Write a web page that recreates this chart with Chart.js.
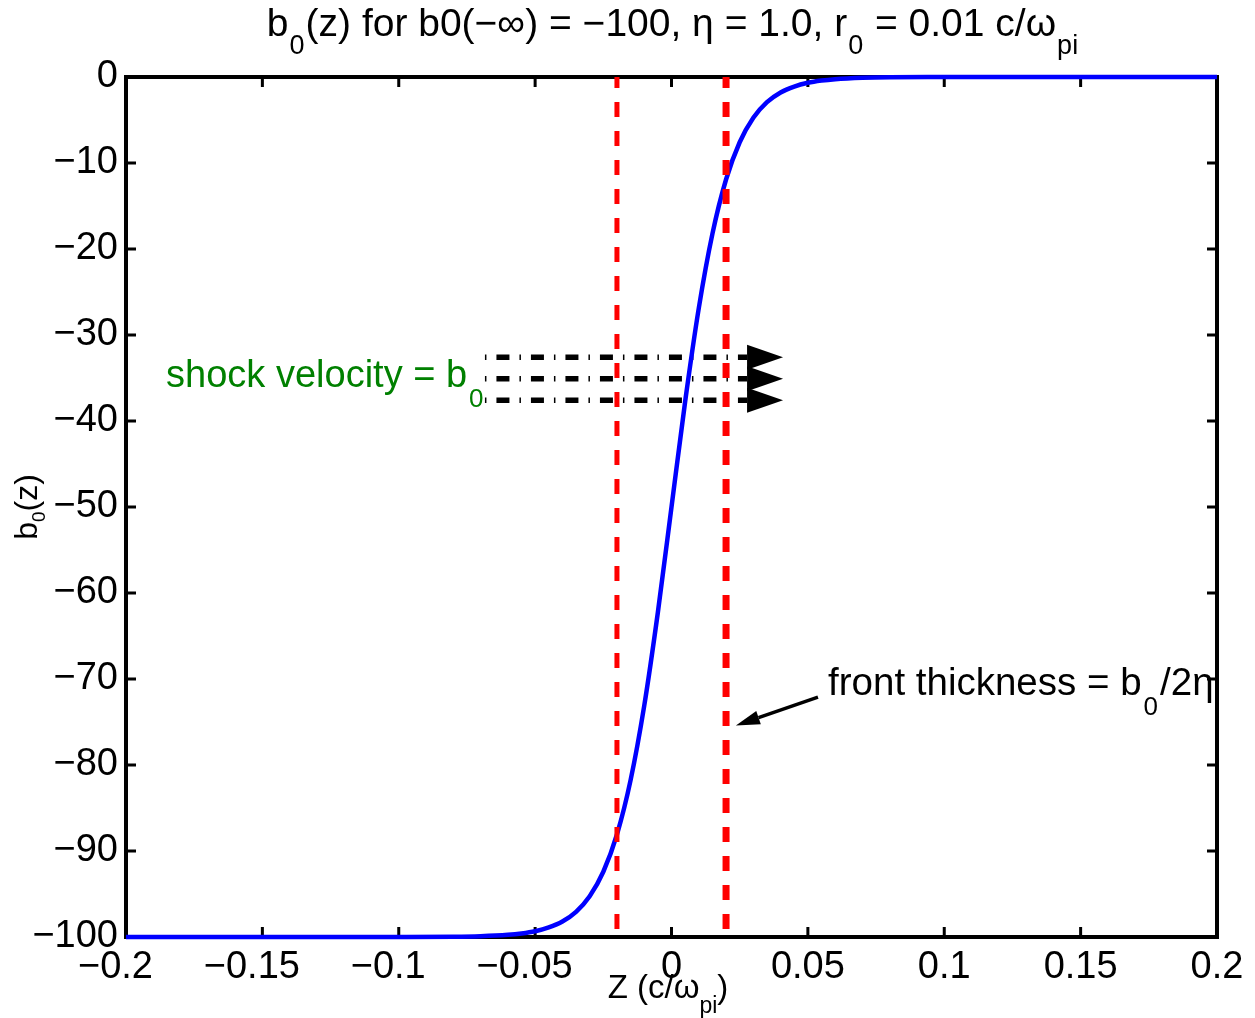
<!DOCTYPE html>
<html>
<head>
<meta charset="utf-8">
<script src="https://cdn.jsdelivr.net/npm/chart.js@4/dist/chart.umd.min.js"></script>
<style>
html,body{margin:0;padding:0;background:#fff;}
#c{display:block;}
</style>
</head>
<body>
<canvas id="c" width="1255" height="1018"></canvas>
<script>
// ---- data ----
const zValues = [-0.2,-0.15,-0.1,-0.08,-0.07,-0.06,-0.055,-0.05,-0.045,-0.04,-0.035,-0.03,-0.025,-0.02,-0.015,-0.01,-0.005,0,0.005,0.01,0.015,0.02,0.025,0.03,0.035,0.04,0.045,0.05,0.055,0.06,0.07,0.08,0.1,0.15,0.2];
const b0Values = [-100,-100,-99.99,-99.97,-99.91,-99.75,-99.59,-99.33,-98.89,-98.2,-97.07,-95.26,-92.41,-88.08,-81.76,-73.11,-62.25,-50,-37.75,-26.89,-18.24,-11.92,-7.59,-4.74,-2.93,-1.8,-1.11,-0.67,-0.41,-0.25,-0.09,-0.03,-0.01,0,0];
const frontEdges = [-0.02, 0.02];
const arrowLevels = [-32.6, -35.1, -37.6];
const arrowStartZ = -0.0684;
const arrowBaseZ = 0.0277;
const arrowTipZ = 0.0409;
const frontArrowTail = [0.0537, -72.1];
const frontArrowTip = [0.0236, -75.4];
const xTicks = [-0.2,-0.15,-0.1,-0.05,0,0.05,0.1,0.15,0.2];
const xTickLabels = ['−0.2','−0.15','−0.1','−0.05','0','0.05','0.1','0.15','0.2'];
const yTicks = [-100,-90,-80,-70,-60,-50,-40,-30,-20,-10,0];
const yTickLabels = ['−100','−90','−80','−70','−60','−50','−40','−30','−20','−10','0'];

const FONT = '"Liberation Sans", Arial, Helvetica, sans-serif';

function richDraw(ctx, segs, x, y, o) {
  let total = 0;
  const gap = o.subGap || 0;
  const widths = segs.map(s => {
    ctx.font = (s[1] ? o.subFs : o.fs) + 'px ' + FONT;
    const w = ctx.measureText(s[0]).width + (s[1] ? gap * 2 : 0);
    total += w;
    return w;
  });
  let cx = x;
  if (o.align === 'center') cx = x - total / 2;
  else if (o.align === 'right') cx = x - total;
  ctx.fillStyle = o.color || '#000';
  ctx.textBaseline = 'alphabetic';
  ctx.textAlign = 'left';
  segs.forEach((s, i) => {
    ctx.font = (s[1] ? o.subFs : o.fs) + 'px ' + FONT;
    ctx.fillText(s[0], cx + (s[1] ? gap : 0), y + (s[1] ? o.subShift : 0));
    cx += widths[i];
  });
  return total;
}

const decor = {
  id: 'decor',
  beforeDatasetsDraw(chart) {
    const {ctx, chartArea: a, scales: {x, y}} = chart;
    ctx.save();
    ctx.strokeStyle = '#000';
    ctx.lineWidth = 4;
    ctx.strokeRect(a.left, a.top, a.right - a.left, a.bottom - a.top);
    ctx.lineWidth = 3;
    ctx.beginPath();
    xTicks.forEach(v => {
      const p = x.getPixelForValue(v);
      ctx.moveTo(p, a.bottom); ctx.lineTo(p, a.bottom - 10);
      ctx.moveTo(p, a.top); ctx.lineTo(p, a.top + 10);
    });
    yTicks.forEach(v => {
      const p = y.getPixelForValue(v);
      ctx.moveTo(a.left, p); ctx.lineTo(a.left + 10, p);
      ctx.moveTo(a.right, p); ctx.lineTo(a.right - 10, p);
    });
    ctx.stroke();
    ctx.restore();
  },
  afterDatasetsDraw(chart) {
    const {ctx, scales: {x, y}} = chart;
    ctx.save();
    ctx.fillStyle = '#000';
    arrowLevels.forEach(lv => {
      const py = y.getPixelForValue(lv);
      const bx = x.getPixelForValue(arrowBaseZ);
      const tx = x.getPixelForValue(arrowTipZ);
      ctx.beginPath();
      ctx.moveTo(bx, py - 12.5);
      ctx.lineTo(tx, py);
      ctx.lineTo(bx, py + 12.5);
      ctx.closePath();
      ctx.fill();
    });
    const x0 = x.getPixelForValue(frontArrowTail[0]), y0 = y.getPixelForValue(frontArrowTail[1]);
    const x1 = x.getPixelForValue(frontArrowTip[0]), y1 = y.getPixelForValue(frontArrowTip[1]);
    const ang = Math.atan2(y1 - y0, x1 - x0);
    const hl = 24, hw = 7;
    const bx = x1 - hl * Math.cos(ang), by = y1 - hl * Math.sin(ang);
    ctx.strokeStyle = '#000';
    ctx.lineWidth = 3.5;
    ctx.beginPath();
    ctx.moveTo(x0, y0); ctx.lineTo(bx, by); ctx.stroke();
    ctx.beginPath();
    ctx.moveTo(x1, y1);
    ctx.lineTo(bx + hw * Math.sin(ang), by - hw * Math.cos(ang));
    ctx.lineTo(bx - hw * Math.sin(ang), by + hw * Math.cos(ang));
    ctx.closePath();
    ctx.fill();
    ctx.restore();
  },
  afterDraw(chart) {
    const {ctx, chartArea: a, scales: {x, y}} = chart;
    ctx.save();
    richDraw(ctx, [['b'],['0',1],['(z) for b0(−∞) = −100, η = 1.0, r'],['0',1],[' = 0.01 c/ω'],['pi',1]],
      673, 36, {fs: 39, subFs: 27, subShift: 18, subGap: 1, align: 'center'});
    richDraw(ctx, [['Z (c/ω'],['pi',1],[')']], 668, 998, {fs: 33, subFs: 23, subShift: 15, align: 'center'});
    ctx.save();
    ctx.translate(37, 507);
    ctx.rotate(-Math.PI / 2);
    richDraw(ctx, [['b'],['0',1],['(z)']], 0, 0, {fs: 32, subFs: 19, subShift: 8, align: 'center'});
    ctx.restore();
    richDraw(ctx, [['shock velocity = b'],['0',1]], x.getPixelForValue(-0.1853), y.getPixelForValue(-36.0),
      {fs: 38, subFs: 26, subShift: 20, subGap: 2, align: 'left', color: '#008000'});
    richDraw(ctx, [['front thickness = b'],['0',1],['/2η']], x.getPixelForValue(0.0574), y.getPixelForValue(-71.9),
      {fs: 38.5, subFs: 26, subShift: 20, subGap: 2, align: 'left', color: '#000'});
    ctx.restore();
  }
};

const datasets = [];
frontEdges.forEach((e, i) => {
  datasets.push({
    data: [{x: e, y: 0}, {x: e, y: -100}],
    borderColor: '#ff0000', borderWidth: i === 0 ? 5 : 7,
    borderDash: [15, 14], borderDashOffset: 4, borderCapStyle: 'butt',
    pointRadius: 0, order: 0, clip: false
  });
});
datasets.push({
  data: zValues.map((z, i) => ({x: z, y: b0Values[i]})),
  borderColor: '#0000ff', borderWidth: 4.5, pointRadius: 0,
  cubicInterpolationMode: 'monotone', order: 1, clip: false
});
arrowLevels.forEach(lv => {
  datasets.push({
    data: [{x: arrowStartZ, y: lv}, {x: arrowBaseZ, y: lv}],
    borderColor: '#000', borderWidth: 5.5,
    borderDash: [1.5, 10, 13, 10], borderCapStyle: 'butt',
    pointRadius: 0, order: 2, clip: false
  });
});

new Chart(document.getElementById('c'), {
  type: 'line',
  data: {datasets},
  plugins: [decor],
  options: {
    responsive: false, animation: false, devicePixelRatio: 1,
    layout: {padding: {top: 77, right: 38, left: 0, bottom: 0}},
    plugins: {legend: {display: false}, tooltip: {enabled: false}, title: {display: false}},
    scales: {
      x: {
        type: 'linear', min: -0.2, max: 0.2,
        afterBuildTicks: s => { s.ticks = xTicks.map(v => ({value: v})); },
        afterFit: s => { s.height = 81; },
        grid: {display: false, drawTicks: false}, border: {display: false},
        ticks: {padding: 8, color: '#000', font: {family: FONT, size: 38}, maxRotation: 0, autoSkip: false,
          // negative labels: number centred on the tick, minus sign hanging to the left
          callback: (v, i) => xTickLabels[i].startsWith('−') ? xTickLabels[i] + '  ' : xTickLabels[i]}
      },
      y: {
        type: 'linear', min: -100, max: 0,
        afterBuildTicks: s => { s.ticks = yTicks.map(v => ({value: v})); },
        afterFit: s => { s.width = 126; },
        grid: {display: false, drawTicks: false}, border: {display: false},
        ticks: {padding: 8, color: '#000', font: {family: FONT, size: 38}, autoSkip: false,
          callback: (v, i) => yTickLabels[i]}
      }
    }
  }
});
</script>
</body>
</html>
